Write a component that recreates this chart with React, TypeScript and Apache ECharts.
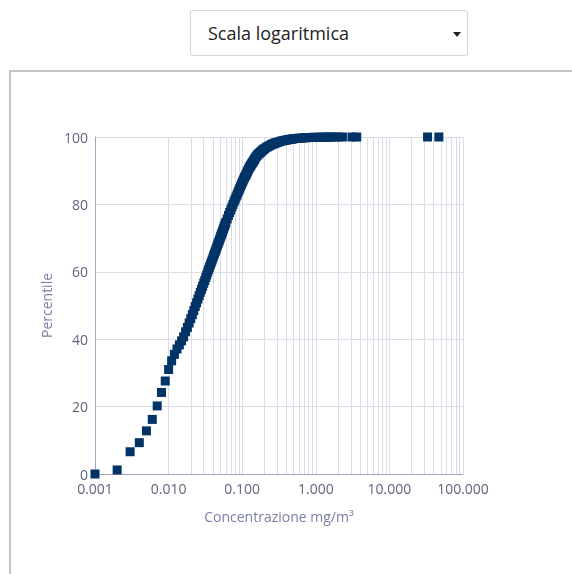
import React, { useEffect, useRef } from "react";
import * as echarts from "echarts";

const concentrations: number[] = [
  0.001, 0.002, 0.003, 0.004, 0.005, 0.006, 0.007, 0.008, 0.009, 0.01,
  0.011, 0.012, 0.013, 0.014, 0.015, 0.016, 0.017, 0.018, 0.019, 0.02,
  0.021, 0.022, 0.023, 0.024, 0.025, 0.026, 0.027, 0.028, 0.029, 0.03,
  0.031, 0.032, 0.033, 0.034, 0.035, 0.036, 0.037, 0.038, 0.039, 0.04,
  0.041, 0.042, 0.043, 0.044, 0.045, 0.046, 0.047, 0.048, 0.049, 0.05,
  0.051, 0.052, 0.053, 0.054, 0.055, 0.056, 0.057, 0.058, 0.059, 0.06,
  0.0625, 0.065, 0.0675, 0.07, 0.0725, 0.075, 0.0775, 0.08, 0.0825, 0.085,
  0.0875, 0.09, 0.0925, 0.095, 0.0975, 0.1, 0.1025, 0.105, 0.1075, 0.11,
  0.1125, 0.115, 0.1175, 0.12, 0.1225, 0.125, 0.1275, 0.13, 0.1325, 0.135,
  0.1375, 0.14, 0.1425, 0.145, 0.1475, 0.15, 0.155, 0.16, 0.165, 0.17,
  0.175, 0.18, 0.185, 0.19, 0.195, 0.2, 0.21, 0.22, 0.23, 0.24,
  0.25, 0.26, 0.27, 0.28, 0.29, 0.3, 0.32, 0.34, 0.36, 0.38,
  0.4, 0.42, 0.44, 0.46, 0.48, 0.5, 0.55, 0.6, 0.65, 0.7,
  0.75, 0.8, 0.85, 0.9, 0.95, 1.0, 1.1, 1.2, 1.3, 1.4,
  1.5, 1.6, 1.8, 2.0, 2.3, 3.1, 3.6, 33, 47,
];

const percentiles: number[] = [
  0, 1.2, 6.6, 9.3, 12.8, 16.2, 20.2, 24.2, 27.6, 31.0,
  33.6, 35.5, 37.1, 38.3, 39.5, 40.7, 42.2, 43.5, 44.8, 46.1,
  47.3, 48.5, 49.7, 50.8, 51.9, 52.9, 53.9, 54.8, 55.7, 56.6,
  57.4, 58.3, 59.1, 59.9, 60.7, 61.4, 62.1, 62.8, 63.5, 64.1,
  64.8, 65.4, 66.0, 66.6, 67.2, 67.8, 68.4, 68.9, 69.4, 69.9,
  70.5, 71.0, 71.5, 71.9, 72.4, 72.9, 73.4, 73.8, 74.3, 74.7,
  75.7, 76.7, 77.6, 78.4, 79.2, 80.0, 80.8, 81.5, 82.2, 82.8,
  83.5, 84.1, 84.7, 85.3, 85.9, 86.5, 87.0, 87.5, 88.0, 88.4,
  88.8, 89.2, 89.7, 90.1, 90.5, 90.9, 91.2, 91.5, 91.8, 92.1,
  92.4, 92.6, 92.9, 93.1, 93.4, 93.7, 94.2, 94.6, 94.9, 95.1,
  95.4, 95.6, 95.9, 96.1, 96.3, 96.5, 96.8, 97.1, 97.3, 97.5,
  97.8, 97.9, 98.0, 98.2, 98.3, 98.4, 98.6, 98.8, 98.9, 99.0,
  99.1, 99.2, 99.3, 99.3, 99.4, 99.5, 99.6, 99.65, 99.7, 99.75,
  99.8, 99.83, 99.85, 99.87, 99.9, 99.9, 99.92, 99.94, 99.96, 99.97,
  99.98, 99.99, 100, 100, 100, 100, 100, 100, 100,
];

const decades: number[] = [0.001, 0.01, 0.1, 1, 10];
const minorSteps: number[] = [2, 3, 4, 5, 6, 7, 8, 9];

const yTicks = { min: 0, max: 100, interval: 20 };
const xRange = { min: 0.001, max: 100 };

const FONT = "'Open Sans', 'Noto Sans', sans-serif";
const GRID_COLOR = "#dcdce8";
const AXIS_COLOR = "#a3a5c6";
const LABEL_COLOR = "#61657e";
const NAME_COLOR = "#7b7ea6";

export default function App() {
  const ref = useRef<HTMLDivElement>(null);

  useEffect(() => {
    if (!ref.current) return;
    const chart = echarts.init(ref.current, undefined, { renderer: "svg" });
    const minorLines: { xAxis: number }[] = [];
    decades.forEach((d) => minorSteps.forEach((m) => minorLines.push({ xAxis: +(d * m).toPrecision(3) })));

    chart.setOption({
      animation: false,
      backgroundColor: "transparent",
      grid: { left: 95, top: 137, width: 368, height: 337, containLabel: false },
      xAxis: {
        type: "log",
        logBase: 10,
        min: xRange.min,
        max: xRange.max,
        name: "Concentrazione mg/m³",
        nameLocation: "middle",
        nameGap: 35,
        nameTextStyle: { color: NAME_COLOR, fontSize: 14, fontFamily: FONT },
        axisLine: { show: true, lineStyle: { color: AXIS_COLOR, width: 1 } },
        axisTick: { show: false },
        axisLabel: {
          color: LABEL_COLOR,
          fontSize: 14,
          lineHeight: 14,
          fontFamily: FONT,
          margin: 7,
          formatter: (v: number) => v.toFixed(3),
        },
        splitLine: { show: true, lineStyle: { color: GRID_COLOR, width: 1 } },
      },
      yAxis: {
        type: "value",
        min: yTicks.min,
        max: yTicks.max,
        interval: yTicks.interval,
        name: "Percentile",
        nameLocation: "middle",
        nameGap: 38,
        nameTextStyle: { color: NAME_COLOR, fontSize: 14, fontFamily: FONT },
        axisLine: { show: true, lineStyle: { color: AXIS_COLOR, width: 1 } },
        axisTick: { show: false },
        axisLabel: { color: LABEL_COLOR, fontSize: 14, lineHeight: 12, fontFamily: FONT, margin: 7 },
        splitLine: { show: true, lineStyle: { color: GRID_COLOR, width: 1 } },
      },
      series: [
        {
          type: "scatter",
          data: [],
          z: 1,
          silent: true,
          markLine: {
            z: 1,
            silent: true,
            animation: false,
            symbol: ["none", "none"],
            label: { show: false },
            lineStyle: { color: GRID_COLOR, type: "solid", width: 1 },
            emphasis: { disabled: true },
            data: minorLines,
          },
        },
        {
          type: "scatter",
          z: 10,
          symbol: "rect",
          symbolSize: 9,
          itemStyle: { color: "#003366", opacity: 1 },
          data: concentrations.map((c, i) => [c, percentiles[i]]),
        },
      ],
    });
    return () => chart.dispose();
  }, []);

  return (
    <div>
      <div
        style={{
          position: "fixed",
          left: 190,
          top: 10,
          width: 278,
          height: 46,
          boxSizing: "border-box",
          border: "1px solid #d6d6d6",
          borderRadius: 3,
          background: "#fff",
          fontFamily: FONT,
          fontSize: 18,
          color: "#222",
          lineHeight: "44px",
          paddingLeft: 17,
        }}
      >
        Scala logaritmica
        <div
          style={{
            position: "absolute",
            left: 262,
            top: 21,
            width: 0,
            height: 0,
            borderLeft: "4px solid transparent",
            borderRight: "4px solid transparent",
            borderTop: "5px solid #222",
          }}
        />
      </div>
      <div
        style={{
          position: "fixed",
          left: 9,
          top: 70,
          width: 700,
          height: 700,
          borderTop: "2px solid #c4c4c4",
          borderLeft: "2px solid #c4c4c4",
        }}
      />
      <div ref={ref} style={{ position: "fixed", left: 0, top: 0, width: 572, height: 574 }} />
    </div>
  );
}
